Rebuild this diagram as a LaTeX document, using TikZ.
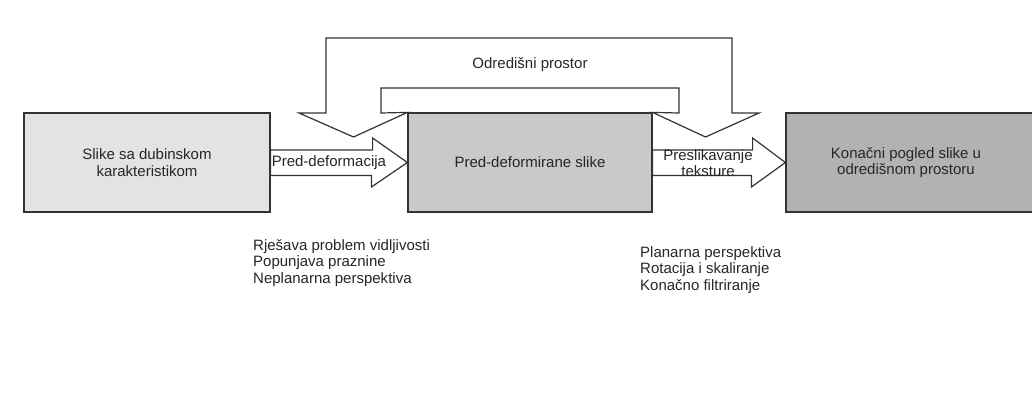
\documentclass[tikz,border=0pt]{standalone}
\usepackage{fontspec}
\setmainfont{Liberation Sans}
\usetikzlibrary{calc}
\begin{document}
\begin{tikzpicture}[x=1pt,y=-1pt,
  okvir/.style={rectangle, draw=black!80, line width=1.2pt, inner sep=0pt, minimum height=99pt, align=center, text=black!85},
  blok/.style={draw=black!80, line width=1.2pt, fill=white},
  tekst/.style={inner sep=1pt, text=black!85, align=left}]
\clip (0,0) rectangle (1032,412);
\fill[white] (0,0) rectangle (1032,412);
\fontsize{15}{16.5}\selectfont
\node[okvir, fill=black!11, minimum width=246pt](slike) at (147,162.5) {Slike sa dubinskom\\karakteristikom};
\node[okvir, fill=black!21, minimum width=244pt](predslike) at (530,162.5) {Pred-deformirane slike};
\node[okvir, fill=black!30, minimum width=254pt](konacni) at (913,162.5) {\hspace*{-14pt}Konačni pogled slike u\\\hspace*{-14pt}odredišnom prostoru};
% strelice
\draw[blok] ($(slike.east)+(0,-12.5)$) -- ++(102,0) -- ++(0,-12) -- (predslike.west) -- ++(-36,24.5) -- ++(0,-11.5) -- ($(slike.east)+(0,13)$) -- cycle;
\draw[blok] ($(predslike.east)+(0,-12.5)$) -- ++(100,0) -- ++(0,-12) -- (konacni.west) -- ++(-34,24.5) -- ++(0,-11.5) -- ($(predslike.east)+(0,13)$) -- cycle;
\draw[blok] (299,113) -- (326,113) -- (326,38) -- (732,38) -- (732,113) -- (759,113) -- (705.5,137) -- (predslike.north east) -- (679,113) -- (679,88) -- (381,88) -- (381,113) -- (predslike.north west) -- (353.5,137) -- cycle;
\node[tekst, anchor=west](deform) at (slike.east) {Pred-deformacija};
\node[tekst, align=center](teksture) at (708,163) {Preslikavanje\\teksture};
\node[tekst](odredisni) at (530,65) {Odredišni prostor};
\node[tekst, anchor=north west](lijevo) at (252,238) {Rješava problem vidljivosti\\Popunjava praznine\\Neplanarna perspektiva};
\node[tekst, anchor=north west](desno) at (639,245) {Planarna perspektiva\\Rotacija i skaliranje\\Konačno filtriranje};
\end{tikzpicture}
\end{document}
